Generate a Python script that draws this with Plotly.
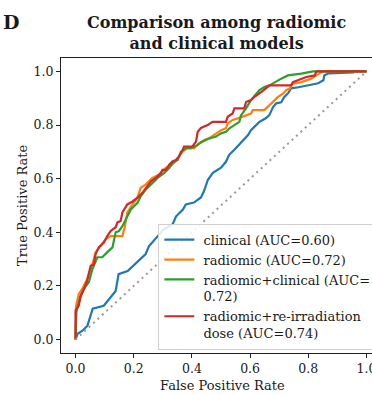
import plotly.graph_objects as go

# ROC curve values (false positive rate, true positive rate)
clinical_fpr = [0, 0.007, 0.024, 0.041, 0.059, 0.097, 0.138, 0.148, 0.179, 0.197, 0.217, 0.241, 0.252, 0.283,
                0.303, 0.334, 0.345, 0.369, 0.379, 0.407, 0.431, 0.441, 0.455, 0.472, 0.5, 0.517, 0.528, 0.545,
                0.569, 0.593, 0.603, 0.614, 0.631, 0.655, 0.666, 0.679, 0.69, 0.707, 0.717, 0.731, 0.741, 0.766,
                0.8, 0.834, 0.852, 0.855, 0.869, 0.955, 0.959, 1.0]
clinical_tpr = [0, 0.022, 0.033, 0.052, 0.115, 0.126, 0.181, 0.244, 0.256, 0.274, 0.293, 0.319, 0.348, 0.385,
                0.411, 0.43, 0.459, 0.485, 0.504, 0.511, 0.53, 0.552, 0.596, 0.622, 0.641, 0.663, 0.689, 0.707,
                0.733, 0.763, 0.781, 0.793, 0.811, 0.826, 0.837, 0.867, 0.881, 0.885, 0.904, 0.919, 0.937, 0.941,
                0.948, 0.956, 0.967, 0.985, 0.993, 0.996, 1.0, 1.0]

radiomic_fpr = [0, 0.002, 0.011, 0.023, 0.040, 0.058, 0.069, 0.086, 0.103, 0.121, 0.144, 0.161, 0.169, 0.178,
                0.196, 0.213, 0.224, 0.241, 0.264, 0.287, 0.310, 0.333, 0.351, 0.368, 0.385, 0.408, 0.425, 0.442,
                0.460, 0.477, 0.5, 0.517, 0.523, 0.540, 0.558, 0.603, 0.609, 0.649, 0.667, 0.678, 0.696, 0.713,
                0.724, 0.736, 0.747, 0.776, 0.810, 0.828, 0.851, 1.0]
radiomic_tpr = [0, 0.127, 0.170, 0.189, 0.226, 0.281, 0.326, 0.349, 0.374, 0.386, 0.386, 0.386, 0.419, 0.474,
                0.504, 0.530, 0.566, 0.578, 0.603, 0.615, 0.640, 0.652, 0.677, 0.701, 0.714, 0.714, 0.732, 0.744,
                0.751, 0.763, 0.781, 0.788, 0.806, 0.819, 0.825, 0.843, 0.856, 0.856, 0.874, 0.886, 0.905, 0.917,
                0.930, 0.936, 0.954, 0.960, 0.973, 0.985, 1.0, 1.0]

combined_fpr = [0, 0.003, 0.017, 0.029, 0.046, 0.058, 0.075, 0.092, 0.109, 0.127, 0.138, 0.149, 0.161, 0.172,
                0.190, 0.213, 0.224, 0.241, 0.259, 0.282, 0.304, 0.322, 0.333, 0.351, 0.362, 0.379, 0.397, 0.420,
                0.431, 0.454, 0.483, 0.5, 0.517, 0.529, 0.546, 0.563, 0.569, 0.586, 0.603, 0.621, 0.632, 0.649,
                0.667, 0.707, 0.730, 0.776, 0.816, 1.0]
combined_tpr = [0, 0.104, 0.164, 0.189, 0.215, 0.263, 0.307, 0.307, 0.326, 0.344, 0.4, 0.405, 0.423, 0.448,
                0.485, 0.510, 0.534, 0.559, 0.578, 0.603, 0.621, 0.640, 0.658, 0.670, 0.701, 0.714, 0.714, 0.726,
                0.735, 0.748, 0.757, 0.769, 0.775, 0.788, 0.8, 0.812, 0.837, 0.862, 0.893, 0.917, 0.930, 0.942,
                0.948, 0.973, 0.985, 0.992, 1.0, 1.0]

dose_fpr = [0, 0, 0.011, 0.017, 0.029, 0.040, 0.052, 0.063, 0.069, 0.080, 0.098, 0.109, 0.121, 0.138, 0.144,
            0.155, 0.161, 0.178, 0.196, 0.213, 0.230, 0.259, 0.276, 0.293, 0.299, 0.310, 0.322, 0.333, 0.345,
            0.356, 0.368, 0.373, 0.402, 0.414, 0.420, 0.431, 0.454, 0.471, 0.517, 0.523, 0.540, 0.546, 0.580,
            0.586, 0.603, 0.615, 0.638, 0.655, 0.667, 0.741, 0.747, 0.764, 0.793, 0.822, 0.828, 1.0]
dose_tpr = [0, 0.109, 0.127, 0.159, 0.189, 0.220, 0.275, 0.281, 0.319, 0.344, 0.363, 0.386, 0.405, 0.419, 0.437,
            0.442, 0.474, 0.504, 0.515, 0.529, 0.547, 0.590, 0.603, 0.621, 0.633, 0.633, 0.652, 0.664, 0.670,
            0.683, 0.707, 0.720, 0.720, 0.738, 0.775, 0.789, 0.800, 0.812, 0.812, 0.831, 0.843, 0.862, 0.862,
            0.886, 0.893, 0.905, 0.923, 0.936, 0.948, 0.948, 0.960, 0.967, 0.979, 0.985, 1.0, 1.0]

chance = [0, 1]

series_names = ["clinical (AUC=0.60)", "radiomic (AUC=0.72)",
                "radiomic+clinical (AUC=\n0.72)", "radiomic+re-irradiation\ndose (AUC=0.74)"]
series_colors = ["#1f77b4", "#ff7f0e", "#2ca02c", "#d62728"]
x_ticks = [0.0, 0.2, 0.4, 0.6, 0.8, 1.0]
y_ticks = [0.0, 0.2, 0.4, 0.6, 0.8, 1.0]

FONT = "DejaVu Serif"
TXT = "#1a1a1a"
NB = "\u00a0"


def legend_label(name):
    lines = name.split("\n")
    return "<br>".join(NB + ln + NB * 3 for ln in lines)


fig = go.Figure()
curves = [(clinical_fpr, clinical_tpr), (radiomic_fpr, radiomic_tpr),
          (combined_fpr, combined_tpr), (dose_fpr, dose_tpr)]
for (fx, ty), name, col in zip(curves, series_names, series_colors):
    fig.add_trace(go.Scatter(x=fx, y=ty, mode="lines", name=legend_label(name),
                             line=dict(color=col, width=2.2)))
fig.add_trace(go.Scatter(x=chance, y=chance, mode="lines", showlegend=False,
                         line=dict(color="#999999", width=2, dash="2px,4px")))

W, H = 372, 395
ML, MR, MT, MB = 60.5, 0, 58, 41.5
pw = W - ML - MR
ph = H - MT - MB


def px_x(p):
    return (p - ML) / pw


def px_y(p):
    return (H - MB - p) / ph


fig.update_layout(
    width=W, height=H,
    margin=dict(l=ML, r=MR, t=MT, b=MB, pad=0, autoexpand=False),
    paper_bgcolor="white", plot_bgcolor="white",
    font=dict(family=FONT, size=13, color=TXT),
    showlegend=True,
    legend=dict(x=px_x(158), y=px_y(224), xanchor="left", yanchor="top",
                bgcolor="rgba(255,255,255,0.85)", bordercolor="#d0d0d0", borderwidth=1,
                font=dict(family=FONT, size=13, color=TXT), itemwidth=30,
                valign="top", tracegroupgap=0),
    xaxis=dict(range=[-0.05, 1.019], tickvals=x_ticks, tickformat=".1f",
               showgrid=False, zeroline=False, showline=True, mirror=True,
               linecolor="#222222", linewidth=1, ticks="outside", ticklen=4,
               ticklabeloverflow="allow", automargin=False,
               tickcolor="#222222", tickfont=dict(family=FONT, size=12.5, color=TXT)),
    yaxis=dict(range=[-0.05, 1.05], tickvals=y_ticks, tickformat=".1f",
               showgrid=False, zeroline=False, showline=True, mirror=False,
               linecolor="#222222", linewidth=1, ticks="outside", ticklen=4,
               automargin=False,
               tickcolor="#222222", tickfont=dict(family=FONT, size=12.5, color=TXT)),
    annotations=[
        dict(text="<b>Comparison among radiomic</b><br><b>and clinical models</b>",
             x=px_x(216.6), y=px_y(33), xref="paper", yref="paper",
             xanchor="center", yanchor="middle", showarrow=False,
             font=dict(family=FONT, size=16, color=TXT)),
        dict(text="<b>D</b>", x=px_x(0), y=px_y(21.5), xref="paper", yref="paper",
             xanchor="left", yanchor="middle", showarrow=False,
             font=dict(family=FONT, size=19, color=TXT)),
        dict(text="False Positive Rate", x=px_x(222.5), y=px_y(386), xref="paper", yref="paper",
             xanchor="center", yanchor="middle", showarrow=False,
             font=dict(family=FONT, size=13, color=TXT)),
        dict(text="True Positive Rate", x=px_x(22), y=px_y(205.7), xref="paper", yref="paper",
             xanchor="center", yanchor="middle", showarrow=False, textangle=-90,
             font=dict(family=FONT, size=13, color=TXT)),
    ],
)

fig.write_html("out.html")
